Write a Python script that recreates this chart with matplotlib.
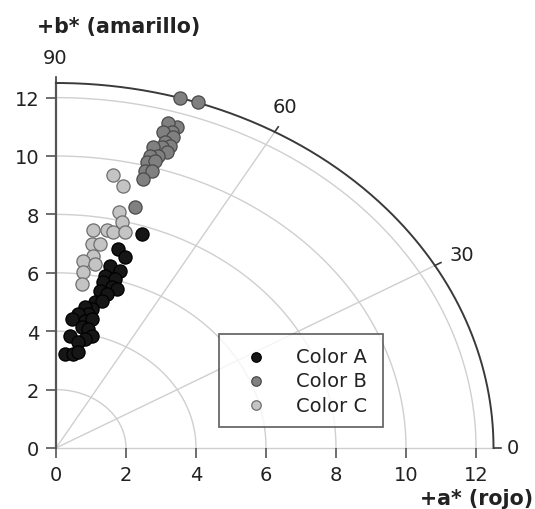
import matplotlib
matplotlib.use('Agg')
import matplotlib.pyplot as plt
import numpy as np

plt.rcParams['font.family'] = ['DejaVu Sans']

# Color A (black)
a_A = [2.45, 1.78, 1.97, 1.54, 1.83, 1.40, 1.69, 1.35, 1.59, 1.26, 1.73, 1.45, 1.11, 1.31, 1.02,
       0.83, 0.92, 0.64, 0.45, 0.83, 1.02, 0.73, 0.40, 0.92, 1.02, 0.83, 0.64, 0.26, 0.49, 0.64]
b_A = [7.33, 6.82, 6.53, 6.24, 6.07, 5.90, 5.79, 5.67, 5.50, 5.39, 5.45, 5.27, 4.99, 5.04, 4.76,
       4.82, 4.59, 4.59, 4.42, 4.36, 4.42, 4.13, 3.85, 4.08, 3.85, 3.73, 3.62, 3.22, 3.22, 3.28]
# Color B (mid gray)
a_B = [3.54, 4.06, 3.45, 3.21, 3.31, 3.07, 3.35, 3.11, 3.26, 3.02, 2.78, 3.16, 2.92, 2.69, 2.59,
       2.83, 2.54, 2.73, 2.49, 2.26]
b_B = [11.99, 11.85, 10.98, 11.12, 10.81, 10.81, 10.64, 10.47, 10.35, 10.30, 10.30, 10.13, 10.01,
       10.01, 9.78, 9.84, 9.50, 9.50, 9.21, 8.24]
# Color C (light gray)
a_C = [1.64, 1.92, 1.81, 1.88, 1.07, 1.45, 1.64, 1.97, 1.02, 1.26, 1.07, 0.78, 1.11, 0.78, 0.73]
b_C = [9.35, 8.96, 8.09, 7.73, 7.47, 7.47, 7.41, 7.39, 6.99, 6.99, 6.59, 6.40, 6.30, 6.02, 5.62]

ticks = [0, 2, 4, 6, 8, 10, 12]
grid_r = [2, 4, 6, 8, 10, 12]
angle_labels = ['0', '30', '60', '90']
R = 12.5

fig = plt.figure(figsize=(5.35, 5.10), dpi=100)
ax = fig.add_axes([56/535, 61/510, 455/535, 379.6/510])
ax.set_xlim(0, 13)
ax.set_ylim(0, 13)
for s in ax.spines.values():
    s.set_visible(False)

th = np.linspace(0, np.pi/2, 300)
gc = '#cfcfcf'
for r in grid_r:
    ax.plot(r*np.cos(th), r*np.sin(th), color=gc, lw=1.0, zorder=1, clip_on=False)
for ang in [30, 60]:
    t = np.deg2rad(ang)
    ax.plot([0, R*np.cos(t)], [0, R*np.sin(t)], color=gc, lw=1.0, zorder=1, clip_on=False)
ax.plot([0, R], [0, 0], color=gc, lw=1.0, zorder=1, clip_on=False)
# outer arc and left spine
ax.plot(R*np.cos(th), R*np.sin(th), color='#3a3a3a', lw=1.4, zorder=2, clip_on=False)
ax.plot([0, 0], [0, R], color='#555555', lw=1.6, zorder=2, clip_on=False)
# angular ticks
for ang in [0, 30, 60, 90]:
    t = np.deg2rad(ang)
    ax.plot([R*np.cos(t), (R+0.2)*np.cos(t)], [R*np.sin(t), (R+0.2)*np.sin(t)],
            color='#3a3a3a', lw=1.2, clip_on=False, zorder=2)
lab_pos = [(13.05, 0.0), (11.6, 6.64), (6.54, 11.68), (-0.03, 13.39)]
for txt, (px, py) in zip(angle_labels, lab_pos):
    ax.text(px, py, txt, ha='center', va='center', fontsize=14, color='#222222')

ax.scatter(a_C, b_C, s=90, c='#c4c4c4', edgecolors='#6e6e6e', linewidths=0.9, zorder=3, clip_on=False, label='Color C')
ax.scatter(a_A, b_A, s=90, c='#161616', edgecolors='#000000', linewidths=0.9, zorder=4, clip_on=False, label='Color A')
ax.scatter(a_B, b_B, s=90, c='#808080', edgecolors='#4a4a4a', linewidths=0.9, zorder=5, clip_on=False, label='Color B')

ax.set_xticks(ticks)
ax.set_yticks(ticks)
ax.tick_params(direction='out', length=7, width=1.2, color='#555555', labelsize=14,
               labelcolor='#222222', pad=5)

fig.text(37/535, 1 - 27/510, '+b* (amarillo)', fontsize=14.8, fontweight='bold',
         ha='left', va='center', color='#222222')
fig.text(533/535, 1 - 499/510, '+a* (rojo)', fontsize=14.8, fontweight='bold',
         ha='right', va='center', color='#222222')

handles, labels = ax.get_legend_handles_labels()
order = [labels.index('Color A'), labels.index('Color B'), labels.index('Color C')]
leg = ax.legend([handles[i] for i in order], [labels[i] for i in order],
                loc='upper left', bbox_to_anchor=(219/535, 1 - 335/510, 164/535, 0.0),
                bbox_transform=fig.transFigure, mode='expand',
                fontsize=14, frameon=True, fancybox=False, markerscale=0.72,
                handletextpad=0.8, labelspacing=0.28, borderpad=0.65, borderaxespad=0,
                handlelength=2.5)
leg.get_frame().set_edgecolor('#444444')
leg.get_frame().set_linewidth(1.3)
for t in leg.get_texts():
    t.set_color('#222222')
leg.set_zorder(10)

fig.savefig('out.png', dpi=100)
